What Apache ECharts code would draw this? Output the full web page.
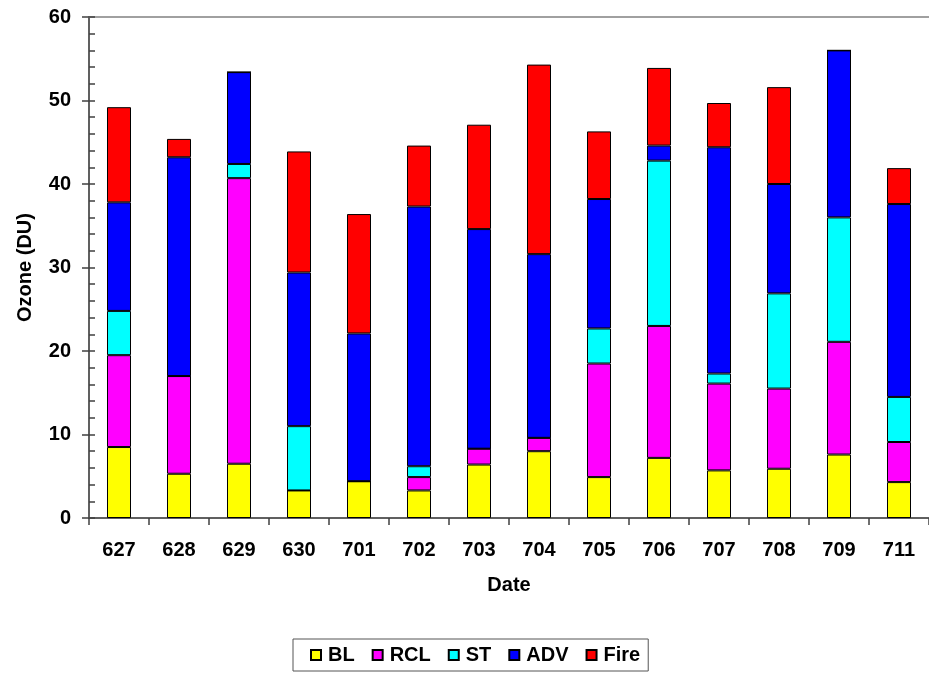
<!DOCTYPE html>
<html>
<head>
<meta charset="utf-8">
<script src="https://cdn.jsdelivr.net/npm/echarts@6/dist/echarts.min.js"></script>
<style>
html,body{margin:0;padding:0;background:#fff;}
#chart{width:929px;height:673px;}
</style>
</head>
<body>
<div id="chart"></div>
<script>
const dates = ['627','628','629','630','701','702','703','704','705','706','707','708','709','711'];
const BL   = [8.5, 5.3, 6.5, 3.3, 4.4, 3.3, 6.4, 8.0, 4.9, 7.2, 5.7, 5.9, 7.6, 4.3];
const RCL  = [11.0, 11.7, 34.2, 0, 0, 1.6, 1.9, 1.6, 13.6, 15.8, 10.4, 9.6, 13.5, 4.8];
const ST   = [5.3, 0, 1.7, 7.7, 0, 1.3, 0, 0, 4.2, 19.8, 1.2, 11.4, 14.9, 5.4];
const ADV  = [13.0, 26.2, 11.0, 18.4, 17.7, 31.1, 26.3, 22.0, 15.5, 1.8, 27.1, 13.1, 20.0, 23.1];
const Fire = [11.4, 2.2, 0, 14.5, 14.3, 7.3, 12.5, 22.7, 8.1, 9.3, 5.3, 11.6, 0, 4.3];
const seriesNames = ['BL','RCL','ST','ADV','Fire'];
const seriesData = [BL, RCL, ST, ADV, Fire];
const seriesColors = ['#FFFF00','#FF00FF','#00FFFF','#0000FF','#FF0000'];

const font = {fontFamily:'"Liberation Sans", Arial, sans-serif', fontWeight:'bold', fontSize:20, color:'#000'};

const chart = echarts.init(document.getElementById('chart'), null, {renderer:'canvas'});
chart.setOption({
  animation:false,
  backgroundColor:'#fff',
  textStyle: font,
  grid:{left:89, top:17, width:846, bottom:155, containLabel:false},
  legend:{
    left:293, top:639,
    padding:[6,8,6,17],
    borderColor:'#555', borderWidth:1,
    itemWidth:10, itemHeight:10, itemGap:17,
    icon:'rect',
    textStyle:Object.assign({}, font, {padding:[0,0,0,2]}),
    data: seriesNames
  },
  xAxis:[{
    type:'category', data:dates, position:'bottom',
    axisLine:{lineStyle:{color:'#606060', width:2}},
    axisTick:{show:true, length:7, inside:false, lineStyle:{color:'#404040', width:1.5}},
    axisLabel:Object.assign({}, font, {margin:22}),
    name:'Date', nameLocation:'middle', nameGap:57,
    nameTextStyle:font
  },{
    type:'category', data:dates, position:'top',
    axisLine:{show:true, onZero:false, lineStyle:{color:'#a0a0a0', width:2}},
    axisTick:{show:false}, axisLabel:{show:false}
  }],
  yAxis:[{
    type:'value', min:0, max:60, interval:10, position:'left',
    axisLine:{show:true, lineStyle:{color:'#606060', width:2}},
    axisTick:{show:true, length:7, inside:false, lineStyle:{color:'#404040', width:1.5}},
    splitLine:{show:false},
    axisLabel:Object.assign({}, font, {margin:18}),
    name:'Ozone (DU)', nameLocation:'middle', nameGap:54,
    nameTextStyle:font
  },{
    type:'value', min:0, max:60, interval:2, position:'left',
    axisLine:{show:false},
    axisTick:{show:true, length:6, inside:true, lineStyle:{color:'#404040', width:1.5}},
    splitLine:{show:false},
    axisLabel:{show:false}
  }],
  series: seriesNames.map((n,i)=>({
    name:n, type:'bar', stack:'total', barWidth:24,
    xAxisIndex:0, yAxisIndex:0,
    itemStyle:{color:seriesColors[i], borderColor:'#000', borderWidth:1},
    data: seriesData[i]
  }))
});
</script>
</body>
</html>
